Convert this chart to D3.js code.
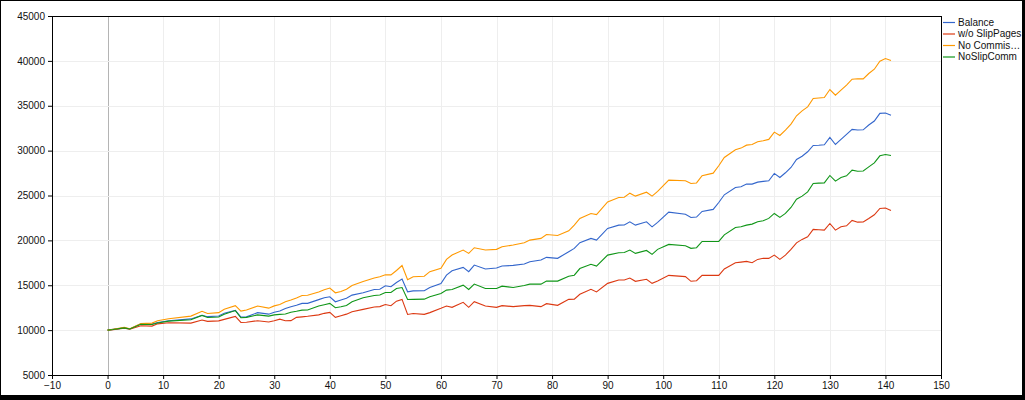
<!DOCTYPE html>
<html>
<head>
<meta charset="utf-8">
<script src="https://cdn.jsdelivr.net/npm/d3@7"></script>
<style>
  html, body { margin: 0; padding: 0; background: #000; }
  svg { display: block; }
</style>
</head>
<body>
<svg id="chart"></svg>
<script>
// trade number (x) shared by all series
var steps = [0, 1, 3, 4, 6, 8, 9, 11, 15, 17, 18, 20, 21, 23, 24, 25, 27, 29, 30, 31,
  32, 33, 34, 35, 36, 38, 39, 40, 41, 42, 43, 44, 46, 48, 49, 50, 51, 52, 53, 54,
  55, 57, 58, 60, 61, 62, 64, 65, 66, 68, 70, 71, 73, 75, 76, 78, 79, 81, 83, 84,
  85, 87, 88, 90, 92, 93, 94, 95, 97, 98, 99, 101, 104, 105, 106, 107, 109, 110, 111, 113,
  114, 115, 116, 117, 118, 119, 120, 121, 122, 123, 124, 125, 126, 127, 128, 129, 130, 131, 132, 133,
  134, 135, 136, 137, 138, 139, 140, 141];

var balance = [10000, 10080, 10250, 10120, 10700, 10680, 10850, 11050, 11250, 11650, 11500, 11580, 11880, 12200, 11450, 11480, 11950, 11780, 12000, 12120,
  12420, 12600, 12780, 12980, 12980, 13400, 13600, 13720, 13160, 13350, 13550, 13900, 14160, 14530, 14550, 14940, 14830, 15310, 15680, 14270,
  14370, 14380, 14750, 15200, 16130, 16620, 16990, 16510, 17250, 16810, 16920, 17140, 17210, 17360, 17620, 17810, 18110, 18000, 18740, 19110,
  19740, 20220, 20030, 21330, 21700, 21720, 22070, 21700, 22070, 21510, 22000, 23150, 22920, 22550, 22600, 23220, 23450, 24220, 25080, 25900,
  25970, 26270, 26270, 26490, 26570, 26640, 27460, 27010, 27530, 28120, 29010, 29380, 29870, 30570, 30600, 30650, 31470, 30680, 31250, 31810,
  32370, 32290, 32320, 32850, 33300, 34150, 34190, 33930];

var noSlip = [10000, 10060, 10220, 10100, 10480, 10450, 10700, 10820, 10780, 11120, 10980, 11030, 11200, 11520, 10850, 10880, 11050, 10900, 11050, 11220,
  11040, 11060, 11420, 11480, 11540, 11700, 11870, 11980, 11420, 11600, 11780, 12050, 12310, 12570, 12620, 12860, 12720, 13230, 13420, 11750,
  11850, 11760, 11950, 12430, 12690, 12540, 13100, 12540, 13170, 12690, 12540, 12730, 12620, 12730, 12760, 12620, 12950, 12760, 13430, 13450,
  14000, 14550, 14250, 15210, 15590, 15590, 15810, 15440, 15660, 15210, 15470, 16100, 15960, 15440, 15500, 16100, 16100, 16100, 16810, 17510,
  17580, 17660, 17510, 17880, 18000, 17990, 18360, 17880, 18360, 18990, 19730, 20110, 20400, 21220, 21180, 21140, 21880, 21140, 21510, 21620,
  22220, 22030, 22050, 22440, 22850, 23560, 23600, 23330];

var noComm = [10000, 10100, 10300, 10150, 10720, 10780, 11050, 11270, 11560, 12100, 11860, 11950, 12330, 12720, 12120, 12240, 12680, 12450, 12700, 12850,
  13160, 13350, 13580, 13860, 13880, 14250, 14500, 14690, 14160, 14300, 14550, 14980, 15420, 15800, 15950, 16160, 16160, 16640, 17200, 15610,
  15950, 16000, 16510, 16880, 17880, 18360, 18920, 18550, 19180, 18920, 19000, 19290, 19480, 19740, 20030, 20220, 20660, 20550, 21070, 21700,
  22440, 23000, 22880, 24290, 24780, 24800, 25260, 24930, 25370, 24930, 25450, 26710, 26640, 26340, 26400, 27200, 27490, 28310, 29240, 30090,
  30280, 30610, 30690, 30980, 31100, 31250, 32060, 31690, 32290, 32950, 33880, 34430, 34880, 35810, 35860, 35920, 36810, 36180, 36740, 37300,
  37960, 38000, 38000, 38590, 39070, 39960, 40260, 40040];

var noSlipComm = [10000, 10070, 10250, 10120, 10650, 10620, 10800, 11000, 11150, 11640, 11400, 11470, 11780, 12180, 11380, 11420, 11700, 11560, 11700, 11760,
  11800, 12000, 12100, 12230, 12240, 12680, 12830, 12980, 12500, 12600, 12750, 13160, 13600, 13850, 13920, 14200, 14200, 14640, 14750, 13420,
  13430, 13450, 13710, 14080, 14460, 14530, 15010, 14530, 15130, 14640, 14640, 14900, 14750, 14970, 15120, 15120, 15460, 15460, 16010, 16120,
  16860, 17340, 17140, 18360, 18620, 18650, 18920, 18550, 18880, 18440, 19000, 19550, 19400, 19110, 19180, 19880, 19880, 19880, 20620, 21440,
  21510, 21700, 21810, 22070, 22180, 22450, 23000, 22560, 23000, 23670, 24590, 24930, 25410, 26340, 26380, 26410, 27230, 26600, 27010, 27190,
  27820, 27710, 27730, 28190, 28640, 29420, 29570, 29460];

var seriesNames = ["Balance", "w/o SlipPages", "No Commis\u2026", "NoSlipComm"];
var seriesColors = ["#3366cc", "#dc3912", "#ff9900", "#109618"];
var xTicks = [-10, 0, 10, 20, 30, 40, 50, 60, 70, 80, 90, 100, 110, 120, 130, 140, 150];
var yTicks = [5000, 10000, 15000, 20000, 25000, 30000, 35000, 40000, 45000];

var W = 1025, H = 400;
var margin = { top: 16, right: 84, bottom: 25, left: 52 };
var width = W - margin.left - margin.right,
  height = H - margin.top - margin.bottom;

var svg = d3.select("#chart").attr("width", W).attr("height", H);

// black frame round the white page
svg.append("rect").attr("width", W).attr("height", H).attr("fill", "#000");
svg.append("rect").attr("x", 1).attr("y", 1).attr("width", 1021).attr("height", 394).attr("fill", "#fff");

var g = svg.append("g").attr("transform", "translate(" + margin.left + "," + margin.top + ")");

var x = d3.scaleLinear().domain([-10, 150]).range([0, width]);
var y = d3.scaleLinear().domain([5000, 45000]).range([height, 0]);

// grid
g.selectAll(".vgrid").data(xTicks).join("line")
  .attr("x1", d => Math.round(x(d)) + 0.5).attr("x2", d => Math.round(x(d)) + 0.5)
  .attr("y1", 0).attr("y2", height)
  .attr("stroke", d => d === 0 ? "#b4b4b4" : "#eeeeee");
g.selectAll(".hgrid").data(yTicks).join("line")
  .attr("x1", 0).attr("x2", width)
  .attr("y1", d => Math.round(y(d)) + 0.5).attr("y2", d => Math.round(y(d)) + 0.5)
  .attr("stroke", "#eeeeee");

// lines
var series = [balance, noSlip, noComm, noSlipComm];
var line = d3.line()
  .x((d, i) => x(steps[i]))
  .y(d => y(d));
g.selectAll(".series").data(series).join("path")
  .attr("fill", "none")
  .attr("stroke", (d, i) => seriesColors[i])
  .attr("stroke-width", 1.1)
  .attr("d", line);

// axes
var xAxis = g.append("g")
  .attr("transform", "translate(0," + height + ")")
  .call(d3.axisBottom(x).tickValues(xTicks).tickSize(4).tickSizeOuter(0));
var yAxis = g.append("g")
  .call(d3.axisLeft(y).tickValues(yTicks).tickSize(4).tickSizeOuter(0).tickFormat(d3.format("d")));
[xAxis, yAxis].forEach(function (a) {
  a.selectAll("path, line").attr("stroke", "#000");
  a.selectAll("text").attr("fill", "#111")
    .style("font-family", "Arial, 'Liberation Sans', sans-serif").style("font-size", "10px");
});
yAxis.selectAll("text").attr("x", -7);
xAxis.selectAll("text").attr("y", 7);

// plot frame
g.append("rect").attr("x", 0.5).attr("y", 0.5).attr("width", width).attr("height", height)
  .attr("fill", "none").attr("stroke", "#000");

// legend
var legend = svg.append("g").attr("transform", "translate(943,22)");
var rows = legend.selectAll("g").data(seriesNames).join("g")
  .attr("transform", (d, i) => "translate(0," + (i * 11.5) + ")");
rows.append("line").attr("x1", 0).attr("x2", 12).attr("y1", 0.5).attr("y2", 0.5)
  .attr("stroke", (d, i) => seriesColors[i]).attr("stroke-width", 1.2);
rows.append("text").attr("x", 15).attr("y", 0).attr("dy", "0.35em")
  .attr("fill", "#111")
  .style("font-family", "Arial, 'Liberation Sans', sans-serif").style("font-size", "10px")
  .text(d => d);
</script>
</body>
</html>
